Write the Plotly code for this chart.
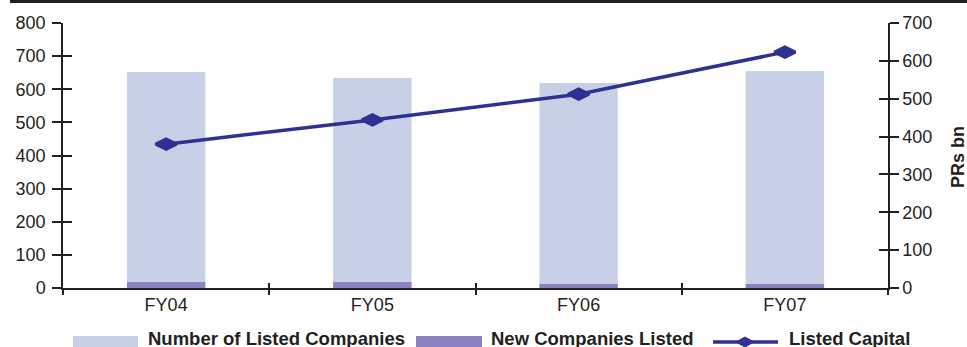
import plotly.graph_objects as go

# Data
years = ["FY04", "FY05", "FY06", "FY07"]
listed_companies = [652, 634, 619, 655]
new_companies = [18, 18, 12, 12]
listed_capital = [380, 444, 512, 623]  # PRs bn

LIGHT = "#c8d0e8"
DARK = "#8a83c0"
LINE = "#2e3192"
INK = "#231f20"
FONT = "Liberation Sans, Arial, sans-serif"

W, H = 967, 347
ML, MR, MT, MB = 63, 79, 23, 59
PW, PH = W - ML - MR, H - MT - MB


def px(x):
    return (x - ML) / PW


def py(y):
    return (H - MB - y) / PH


fig = go.Figure()

fig.add_trace(go.Bar(x=years, y=listed_companies, name="Number of Listed Companies",
                     marker=dict(color=LIGHT, line_width=0), width=0.38,
                     xaxis="x", yaxis="y", showlegend=False))
fig.add_trace(go.Bar(x=years, y=new_companies, name="New Companies Listed",
                     marker=dict(color=DARK, line_width=0), width=0.38,
                     xaxis="x", yaxis="y", showlegend=False))
fig.add_trace(go.Scatter(x=years, y=listed_capital, name="Listed Capital",
                         mode="lines+markers", line=dict(color=LINE, width=3.5),
                         marker=dict(symbol="diamond-wide", size=15, color=LINE,
                                     line=dict(color=LINE, width=3)),
                         xaxis="x", yaxis="y2", showlegend=False))

# invisible helpers so the inner-tick axes get drawn
fig.add_trace(go.Scatter(x=years, y=listed_companies, mode="markers",
                         marker=dict(opacity=0), hoverinfo="skip",
                         xaxis="x2", yaxis="y3", showlegend=False))
fig.add_trace(go.Scatter(x=years, y=listed_capital, mode="markers",
                         marker=dict(opacity=0), hoverinfo="skip",
                         xaxis="x", yaxis="y4", showlegend=False))

tickfont = dict(family=FONT, size=18, color=INK)
axis_line = dict(showline=True, linecolor=INK, linewidth=1.5, showgrid=False,
                 zeroline=False, tickcolor=INK, tickwidth=1.5)

fig.update_layout(
    width=W, height=H,
    margin=dict(l=ML, r=MR, t=MT, b=MB, pad=0),
    paper_bgcolor="white", plot_bgcolor="white",
    barmode="overlay",
    showlegend=False,
    xaxis=dict(type="category", categoryorder="array", categoryarray=years,
               range=[-0.5, 3.5], tickson="boundaries", ticks="outside", ticklen=5,
               tickfont=tickfont, **axis_line),
    xaxis2=dict(type="category", categoryorder="array", categoryarray=years,
                overlaying="x", range=[-0.5, 3.5], tickson="boundaries",
                ticks="inside", ticklen=5, showticklabels=False, **axis_line),
    yaxis=dict(range=[0, 800], dtick=100, ticks="outside", ticklen=9,
               tickfont=tickfont, ticklabelstandoff=3, **axis_line),
    yaxis3=dict(range=[0, 800], dtick=100, ticks="inside", ticklen=9,
                overlaying="y", showticklabels=False, **axis_line),
    yaxis2=dict(range=[0, 700], dtick=100, ticks="outside", ticklen=9,
                side="right", overlaying="y", tickfont=tickfont, **axis_line),
    yaxis4=dict(range=[0, 700], dtick=100, ticks="inside", ticklen=9,
                side="right", overlaying="y", showticklabels=False, **axis_line),
)

# top rule
fig.add_shape(type="line", xref="paper", yref="paper",
              x0=px(10), x1=px(967), y0=py(1.5), y1=py(1.5),
              line=dict(color=INK, width=3))

# right axis title
fig.add_annotation(text="<b>PRs bn</b>", xref="paper", yref="paper",
                   x=px(958), y=py(157), textangle=-90, showarrow=False,
                   xanchor="center", yanchor="middle",
                   font=dict(family=FONT, size=18, color=INK))

# legend
legend_y = py(338)
fig.add_shape(type="rect", xref="paper", yref="paper",
              x0=px(73), x1=px(138), y0=py(336), y1=py(352),
              fillcolor=LIGHT, line_width=0)
fig.add_shape(type="rect", xref="paper", yref="paper",
              x0=px(416), x1=px(482), y0=py(336), y1=py(352),
              fillcolor=DARK, line_width=0)
fig.add_shape(type="line", xref="paper", yref="paper",
              x0=px(713), x1=px(778), y0=py(342), y1=py(342),
              line=dict(color=LINE, width=3.5))
fig.add_shape(type="path", xref="paper", yref="paper",
              xsizemode="pixel", ysizemode="pixel",
              xanchor=px(745), yanchor=py(342),
              path="M -9 0 L 0 5 L 9 0 L 0 -5 Z",
              fillcolor=LINE, line=dict(color=LINE, width=1))

for label, xpix in [("Number of Listed Companies", 146),
                    ("New Companies Listed", 489),
                    ("Listed Capital", 787)]:
    fig.add_annotation(text=f"<b>{label}</b>", xref="paper", yref="paper",
                       x=px(xpix), y=legend_y, showarrow=False,
                       xanchor="left", yanchor="middle",
                       font=dict(family=FONT, size=18.5, color=INK))

fig.write_html("out.html")
